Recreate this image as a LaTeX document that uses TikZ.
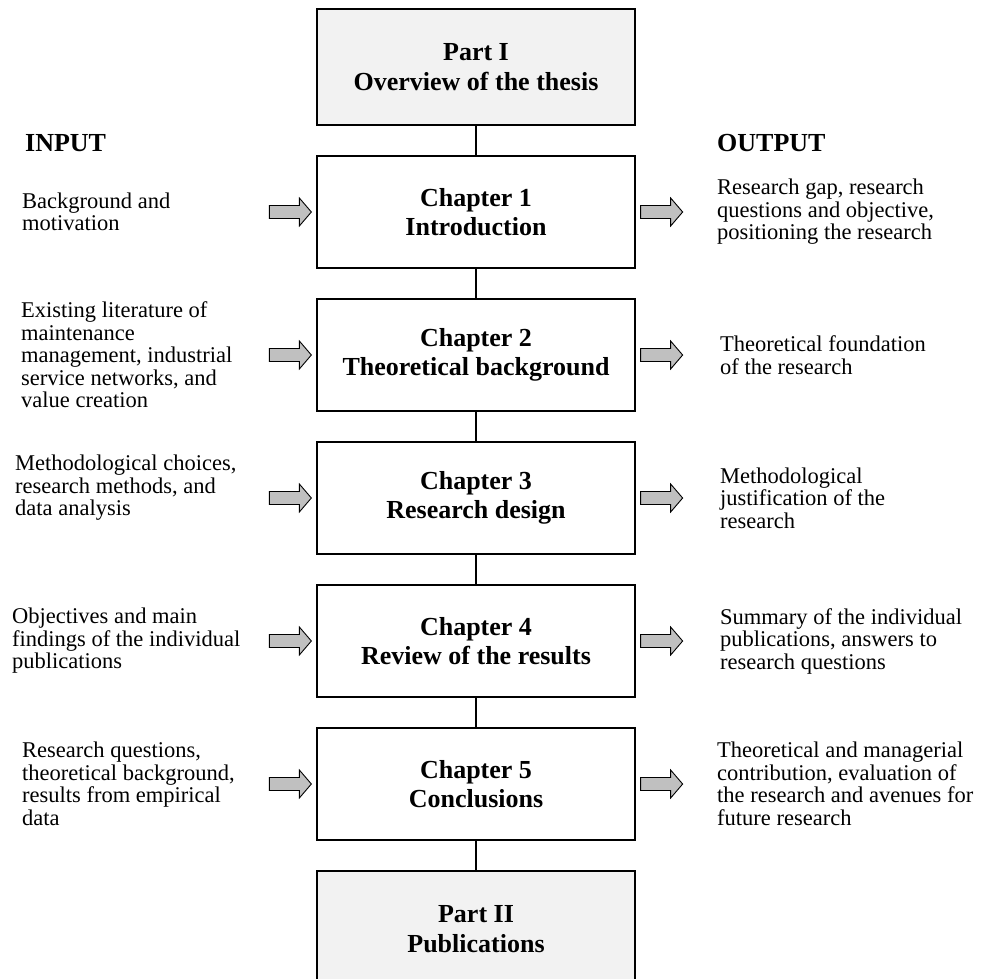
\documentclass[tikz,border=0pt]{standalone}
\usepackage{fontspec}
\setmainfont{Liberation Serif}
\definecolor{partgray}{HTML}{F2F2F2}
\definecolor{arrowgray}{HTML}{C0C0C0}
\begin{document}
\begin{tikzpicture}[x=1pt,y=-1pt,
  chapbox/.style={draw, line width=1.3pt, minimum width=318pt, minimum height=112pt,
    align=center, inner sep=0pt, font=\bfseries\fontsize{26}{29.5}\selectfont},
  partbox/.style={chapbox, line width=2.8pt, fill=partgray, minimum height=116pt},
  link/.style={line width=1.2pt},
  note/.style={anchor=west, align=left, inner sep=0pt, font=\fontsize{22.5}{22.5}\selectfont},
  heading/.style={anchor=base west, inner sep=0pt, font=\bfseries\fontsize{26}{29}\selectfont},
  barrow/.pic={\draw[fill=arrowgray, line width=0.9pt]
    (0,-6.5) -- (30,-6.5) -- (30,-14) -- (42,0) -- (30,14) -- (30,6.5) -- (0,6.5) -- cycle;}
]
\useasboundingbox (0,0) rectangle (985,979);

% main column of parts and chapters
\node[partbox] (p1) at (476,67)  {Part I\\Overview of the thesis};
\node[chapbox] (c1) at (476,212) {Chapter 1\\Introduction};
\node[chapbox] (c2) at (476,355) {Chapter 2\\Theoretical background};
\node[chapbox] (c3) at (476,498) {Chapter 3\\Research design};
\node[chapbox] (c4) at (476,641) {Chapter 4\\Review of the results};
\node[chapbox] (c5) at (476,784) {Chapter 5\\Conclusions};
\node[partbox] (p2) at (476,929) {Part II\\Publications};

\draw[link] (p1) -- (c1);
\draw[link] (c1) -- (c2);
\draw[link] (c2) -- (c3);
\draw[link] (c3) -- (c4);
\draw[link] (c4) -- (c5);
\draw[link] (c5) -- (p2);

% input and output arrows beside each chapter
\foreach \c in {c1,c2,c3,c4,c5}{
  \pic at ([xshift=-47pt]\c.west) {barrow};
  \pic at ([xshift=5pt]\c.east) {barrow};
}

% column headings
\node[heading] (inhead)  at (25,152)  {INPUT};
\node[heading] (outhead) at (717,152) {OUTPUT};

% inputs
\node[note] (in1) at (22,212) {Background and\\motivation};
\node[note] (in2) at (21,355) {Existing literature of\\maintenance\\management, industrial\\service networks, and\\value creation};
\node[note] (in3) at (15,488) {Methodological choices,\\research methods, and\\data analysis};
\node[note] (in4) at (12,641) {Objectives and main\\findings of the individual\\publications};
\node[note] (in5) at (22,784) {Research questions,\\theoretical background,\\results from empirical\\data};

% outputs
\node[note] (out1) at (717,212) {Research gap, research\\questions and objective,\\positioning the research};
\node[note] (out2) at (720,355) {Theoretical foundation\\of the research};
\node[note] (out3) at (720,498) {Methodological\\justification of the\\research};
\node[note] (out4) at (720,641) {Summary of the individual\\publications, answers to\\research questions};
\node[note] (out5) at (717,784) {Theoretical and managerial\\contribution, evaluation of\\the research and avenues for\\future research};
\end{tikzpicture}
\end{document}
